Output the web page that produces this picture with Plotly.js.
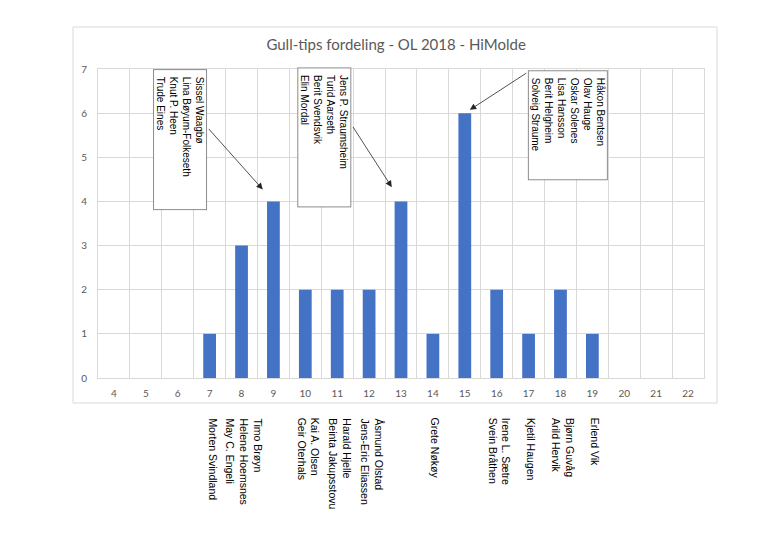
<!DOCTYPE html>
<html>
<head>
<meta charset="utf-8">
<script src="https://cdn.plot.ly/plotly-3.0.1.min.js"></script>
<style>html,body{margin:0;padding:0;background:#fff;}#chart{width:768px;height:543px;}</style>
</head>
<body>
<div id="chart"></div>
<script>
// ---- data ----
const categories = ['4','5','6','7','8','9','10','11','12','13','14','15','16','17','18','19','20','21','22'];
const counts     = [0,0,0,1,3,4,2,2,2,4,1,6,2,1,2,1,0,0,0];

const belowCats = ['7','8','10','11','12','14','16','17','18','19'];
const belowNames = [
  ['Morten Svindland'],
  ['Timo Brøyn','Helene Hoemsnes','May C. Engeli'],
  ['Kai A. Olsen','Geir Oterhals'],
  ['Harald Hjelle','Beinta Jakupsstovu'],
  ['Åsmund Olstad','Jens-Eric Eliassen'],
  ['Grete Nøkøy'],
  ['Irene L. Sætre','Svein Bråthen'],
  ['Kjetil Haugen'],
  ['Bjørn Guvåg','Arild Hervik'],
  ['Erlend Vik']
];

const calloutCats = ['9','13','15'];
const calloutNames = [
  ['Sissel Waagbø','Lina Bøyum-Folkeseth','Knut P. Heen','Trude Eines'],
  ['Jens P. Straumsheim','Turid Aarseth','Berit Svendsvik','Elin Mordal'],
  ['Håkon Bentsen','Olav Hauge','Oskar Solenes','Lisa Hansson','Berit Helgheim','Solveig Straume']
];

const titleText = 'Gull-tips fordeling - OL 2018 - HiMolde';

// ---- layout helpers (positions / styles) ----
const nameFont = {family:'Liberation Sans, Arial, sans-serif', size:10.5, color:'#000000'};
const boxFont  = {family:'Liberation Sans, Arial, sans-serif', size:10, color:'#000000'};
const tickFont = {family:'Lato, Liberation Sans, sans-serif', size:10, color:'#595959'};
const grid = '#d9d9d9';
const lead = '\u00a0\u00a0';

// callout box placement: [x index, y value, long side]
const boxGeom = [
  {x:2.07, y:5.39, w:137},
  {x:6.60, y:5.44, w:136},
  {x:14.23, y:5.73, w:106}
];
// arrow tails relative to bar tops (pixels) and standoff
const arrowGeom = [
  {ax:-66, ay:-74, standoff:16},
  {ax:-49, ay:-76, standoff:17},
  {ax:63, ay:-41, standoff:6}
];

const annotations = [];

belowCats.forEach((c, i) => {
  annotations.push({
    x: categories.indexOf(c), xref:'x',
    y: -0.123, yref:'paper',
    xanchor:'center', yanchor:'top',
    xshift: 3,
    text: belowNames[i].join('<br>'),
    textangle: 90,
    align:'left',
    showarrow:false,
    font: nameFont
  });
});

calloutCats.forEach((c, i) => {
  const g = boxGeom[i];
  annotations.push({
    x: g.x, xref:'x', y: g.y, yref:'y',
    xanchor:'center', yanchor:'middle',
    text: calloutNames[i].map(n => lead + n).join('<br>'),
    textangle: 90,
    width: g.w,
    align:'left',
    bgcolor:'#ffffff', bordercolor:'#8c8c8c', borderwidth:1, borderpad:1,
    showarrow:false,
    font: boxFont
  });
  const idx = categories.indexOf(c);
  const a = arrowGeom[i];
  annotations.push({
    x: idx, xref:'x', y: counts[idx], yref:'y',
    text:'', showarrow:true,
    ax: a.ax, ay: a.ay, standoff: a.standoff,
    arrowhead:2, arrowsize:1.6, arrowwidth:0.8, arrowcolor:'#262626'
  });
});

const trace = {
  type:'bar',
  x: categories,
  y: counts,
  marker:{color:'#4472c4'},
  width: 0.4,
  hoverinfo:'skip'
};

const layout = {
  width:768, height:543,
  margin:{l:98, r:64, t:69, b:165, pad:0},
  paper_bgcolor:'#ffffff', plot_bgcolor:'#ffffff',
  showlegend:false,
  title:{
    text: titleText,
    font:{family:'Lato, Liberation Sans, sans-serif', size:15, color:'#595959'},
    x:0.492, xref:'paper', xanchor:'center',
    y:1-45/543, yref:'container', yanchor:'middle'
  },
  xaxis:{
    type:'category', tickson:'boundaries',
    range:[-0.5, categories.length-0.5],
    showgrid:true, gridcolor:grid, gridwidth:1,
    ticks:'', showline:true, linecolor:grid, linewidth:1, mirror:true,
    tickfont: tickFont, ticklabelstandoff: 6,
    fixedrange:true
  },
  yaxis:{
    range:[0,7], dtick:1, tick0:0,
    showgrid:true, gridcolor:grid, gridwidth:1, zeroline:false,
    ticks:'', showline:true, linecolor:grid, linewidth:1, mirror:true,
    tickfont: tickFont, ticklabelstandoff: 8,
    fixedrange:true
  },
  shapes:[{
    type:'rect', xref:'paper', yref:'paper',
    x0:(73-98)/606, x1:(717-98)/606,
    y0:(378-403)/309, y1:(378-27)/309,
    line:{color:grid, width:1}, fillcolor:'rgba(0,0,0,0)', layer:'below'
  }],
  annotations: annotations
};

Plotly.newPlot('chart', [trace], layout, {displayModeBar:false, staticPlot:true});
</script>
</body>
</html>
